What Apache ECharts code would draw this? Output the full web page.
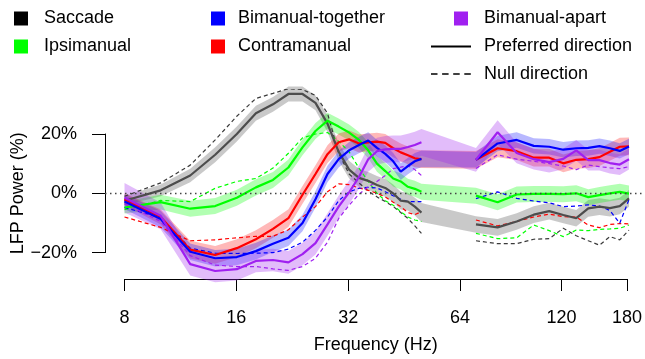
<!DOCTYPE html>
<html>
<head>
<meta charset="utf-8">
<script src="https://cdn.jsdelivr.net/npm/echarts@6/dist/echarts.min.js"></script>
<style>
html,body{margin:0;padding:0;background:#fff;}
#chart{width:645px;height:359px;}
</style>
</head>
<body>
<div id="chart"></div>
<script>
// ---------------- DATA ----------------
const lowFreqs  = [8,10,12,14,16,18,20,22,24,26,28,30,32,34,36,38,40,42,44,46,48,50];
const highFreqs = [70,80,90,100,110,120,130,140,150,160,170,180];
const xTickFreqs = [8,16,32,64,120,180];
const yTickValues = [-20,0,20];
const conditionNames = ['Saccade','Ipsimanual','Bimanual-together','Contramanual','Bimanual-apart'];
const lineStyleNames = ['Preferred direction','Null direction'];

const saccadePref = [-2.5,1,6,13,20,27,30,33.5,33.5,30.5,23.5,14,8,5.2,4.2,2.8,1.8,0,-2.5,-2.8,-4.5,-6.5,
                     -10.5,-11.5,-9.5,-7.2,-6,-7.3,-8.4,-5.1,-4.5,-5,-4.3,-1.7];
const saccadeNull = [-1,3.5,9.5,18,26,32,33.7,35.3,35,33,27,13.5,6.5,3.5,0.8,-1.2,-2.8,-4.4,-6.5,-8.5,-11,-13.5,
                     -16,-17,-17,-15.5,-15.3,-11.8,-14.3,-16,-17.5,-14.6,-15.7,-12.4];
const saccadeSE   = [1.5,2,2.3,2.5,2.5,2.5,2.5,2.5,2.5,2.5,2.8,3,3,3,3,3,3,3,3,3,3,3.2,
                     2.8,2.8,2.8,2.8,2.8,2.8,2.8,2.8,2.8,2.8,2.8,2.8];

const ipsiPref = [-4.8,-3,-5.2,-4.3,-1.5,2,4.5,8.7,15.5,21,24.5,22.5,20.5,18,14.5,10,7.5,5,4,2.2,1.5,0.5,
                  -0.8,-3,-0.4,-0.2,-0.2,-0.3,0,-1.3,-0.6,0,0.5,-0.1];
const ipsiNull = [-5.5,-2.4,-2.8,1.7,4,5,8.5,13.5,18.7,20,20.5,17.5,14,8.5,4,0,-2.5,-4,-6.2,-8,-9,-9.5,
                  -13.5,-15.3,-15,-10.7,-12.6,-14.6,-12.4,-12.6,-12.2,-12,-11.8,-10.7];
const ipsiSE   = [2,2.5,2.7,2.7,2.7,2.7,2.7,2.7,2.7,2.7,2.7,2.7,2.7,2.7,2.7,2.7,2.7,2.7,2.7,2.7,2.7,2.7,
                  2.7,2.7,2.7,2.7,2.7,2.7,2.7,2.7,2.7,2.7,2.7,2.7];

const contraPref = [-2,-8,-19,-20.8,-18.5,-15.5,-12,-8.4,-0.5,6.5,13.2,17.2,18.2,16.8,17.2,17.4,17,15.2,13.8,12.8,11.8,11.5,
                    11.3,15.2,14.2,12,12,10.1,11.3,11.5,12.2,14,15.7,15.8];
const contraNull = [-8,-11.5,-16,-15.7,-15,-14.5,-14.5,-12.3,-8,-4.5,0.5,3.2,2.9,1.8,1,0,-1.2,-3,-4.5,-6.5,-7.2,-6.2,
                    -9,-11,-9.5,-8,-7,-7.9,-8,-10.7,-11.6,-10.5,-10.2,-10.3];
const contraSE   = [2,2.5,3,3,3,3,3,3,3,3,3,3,3,3,3,3,3,3,3,3,3,3,
                    3,3,3,3,3,3,3,3,3,3,3,3];

const togetherPref = [-2.8,-8.7,-19.7,-21.9,-21.5,-19.5,-17,-15,-10,-2,6.5,11.5,14.5,16.3,17.8,15.3,13.3,10.8,7.3,9.2,10.8,11.6,
                      11.3,16.8,18,16,15.7,14.7,15.2,15.3,15.9,15.2,14.3,15.8];
const togetherNull = [-4.8,-8.2,-18.5,-20.2,-20.3,-20.2,-20,-18.8,-16.5,-12.5,-8,-2.5,0.5,1.7,2,1.8,0.5,-0.8,-2,-2.8,-2.8,-2.8,
                      -1.8,0.5,-1.7,-2.6,-3.2,-4.5,-4.3,-3.9,-4.3,-5.8,-10.1,-2.1];
const togetherSE   = [2.5,2.8,2.8,2.8,2.8,2.8,2.8,2.8,2.8,2.8,2.8,2.8,2.8,2.8,2.8,2.8,2.8,2.8,2.8,2.8,2.8,2.8,
                      2.6,2.6,2.6,2.6,2.6,2.6,2.6,2.6,2.6,2.6,2.6,2.6];

const apartPref = [-1.5,-7.6,-23.9,-26.2,-25.6,-22.8,-22.5,-23.3,-20.5,-16.8,-10.5,-4.5,0.3,5.5,11.5,14.2,14.8,15,15,15.6,16.3,17.2,
                   11.3,20.6,13.6,11.5,10.5,11.6,14.5,11.2,11.2,10.2,9.7,11.5];
const apartNull = [-3.5,-9.5,-21,-24.2,-24.7,-24.7,-25.5,-26,-24.7,-21.9,-16.5,-8.5,-4,-0.3,2.2,4,6,8.3,8.8,9.3,8,6,
                   8.4,13,11.5,10.8,10,9.2,8,9.5,9,8.6,8.3,9];
const apartSE   = [5,4.5,3.8,3.8,3.8,3.8,3.8,3.8,3.8,3.8,3.8,3.8,4,4,4.2,4.5,4.5,4.5,4.5,4.5,4.5,4.5,
                   4,4,3.5,3.5,3.5,3.5,3.5,3.5,3.5,3.5,3.5,3.5];

// ---------------- STYLE / LAYOUT ----------------
const FONT = "'Liberation Sans', Arial, Helvetica, sans-serif";
const styles = {
  'Saccade':           {line:'#4d4d4d', dash:'#3a3a3a', band:'rgba(0,0,0,0.21)',      key:'#000000'},
  'Ipsimanual':        {line:'#00ff00', dash:'#00ff00', band:'rgba(0,255,0,0.3)',     key:'#00ff00'},
  'Bimanual-together': {line:'#0000ff', dash:'#0000ff', band:'rgba(0,0,255,0.28)',    key:'#0000ff'},
  'Contramanual':      {line:'#ff0000', dash:'#ff0000', band:'rgba(255,0,0,0.28)',    key:'#ff0000'},
  'Bimanual-apart':    {line:'#a020f0', dash:'#a020f0', band:'rgba(160,32,240,0.3)',  key:'#a020f0'}
};
const condData = {
  'Saccade':           [saccadePref, saccadeNull, saccadeSE],
  'Ipsimanual':        [ipsiPref, ipsiNull, ipsiSE],
  'Bimanual-together': [togetherPref, togetherNull, togetherSE],
  'Contramanual':      [contraPref, contraNull, contraSE],
  'Bimanual-apart':    [apartPref, apartNull, apartSE]
};
const drawOrder = ['Saccade','Ipsimanual','Contramanual','Bimanual-together','Bimanual-apart'];

// axis geometry (pixels)
const AX_LEFT = 124.5, AX_RIGHT = 629;         // 8 Hz .. 180 Hz
const L0 = Math.log2(xTickFreqs[0]), L1 = Math.log2(xTickFreqs[xTickFreqs.length-1]);
const PX_OCT = (AX_RIGHT - AX_LEFT) / (L1 - L0);
const DATA_LEFT = 105, DATA_RIGHT = 645;
const Y_TOP_VAL = 35, Y_BOT_VAL = -30;
const Y20 = 134, YM20 = 252.6;
const PX_UNIT = (YM20 - Y20) / 40;
const GRID_TOP = Y20 - (Y_TOP_VAL - 20) * PX_UNIT;
const GRID_H = (Y_TOP_VAL - Y_BOT_VAL) * PX_UNIT;
const X_AXIS_Y = 281;

const freqs = lowFreqs.concat(highFreqs);
const nLow = lowFreqs.length;

function lineData(vals) {
  const d = [];
  freqs.forEach((f, i) => {
    if (i === nLow) d.push([Math.log2((lowFreqs[nLow-1] + highFreqs[0]) / 2), '-']);
    d.push([Math.log2(f), vals[i]]);
  });
  return d;
}

function bandSeries(name) {
  const [pref, , se] = condData[name];
  const rows = freqs.map((f, i) => [Math.log2(f), pref[i] - se[i], pref[i] + se[i]]);
  return {
    type: 'custom', name: name + ' band', xAxisIndex: 0, yAxisIndex: 0, silent: true, z: 1,
    data: rows,
    encode: {x: 0, y: [1, 2]},
    renderItem: function (params, api) {
      if (params.dataIndex !== 0) return null;
      const up = rows.map(r => api.coord([r[0], r[2]]));
      const lo = rows.map(r => api.coord([r[0], r[1]])).reverse();
      return {type: 'polygon', shape: {points: up.concat(lo)}, style: {fill: styles[name].band}};
    }
  };
}

const series = [];
drawOrder.forEach(n => series.push(bandSeries(n)));
drawOrder.forEach(n => series.push({
  type: 'line', name: n + ' null', xAxisIndex: 0, yAxisIndex: 0, z: 2, silent: true,
  data: lineData(condData[n][1]), showSymbol: false, symbol: 'none', connectNulls: false,
  lineStyle: {color: styles[n].dash, width: 1.2, type: [4, 3]}
}));
drawOrder.forEach((n, k) => {
  const s = {
    type: 'line', name: n + ' preferred', xAxisIndex: 0, yAxisIndex: 0, z: 3, silent: true,
    data: lineData(condData[n][0]), showSymbol: false, symbol: 'none', connectNulls: false,
    lineStyle: {color: styles[n].line, width: 2.2}
  };
  if (k === 0) {
    s.markLine = {
      silent: true, symbol: ['none', 'none'], label: {show: false},
      lineStyle: {color: '#444', width: 1.3, type: [1.5, 3.5]},
      data: [{yAxis: 0}]
    };
  }
  series.push(s);
});

// legend drawn as graphic (swatches + text)
const legendCols = [
  {x: 14, tx: 44, items: ['Saccade', 'Ipsimanual']},
  {x: 211, tx: 238, items: ['Bimanual-together', 'Contramanual']},
  {x: 454, tx: 484, items: ['Bimanual-apart']}
];
const rowY = [18.5, 46.5, 74];
const graphic = [];
legendCols.forEach(c => c.items.forEach((name, r) => {
  graphic.push({type: 'rect', x: c.x, y: rowY[r] - 7, shape: {width: 14, height: 14}, style: {fill: styles[name].key}, silent: true});
  graphic.push({type: 'text', x: c.tx, y: rowY[r], style: {text: name, fontSize: 18, fontFamily: FONT, fill: '#000', verticalAlign: 'middle'}, silent: true});
}));
graphic.push({type: 'line', shape: {x1: 431, y1: rowY[1], x2: 471, y2: rowY[1]}, style: {stroke: '#000', lineWidth: 2}, silent: true});
graphic.push({type: 'text', x: 484, y: rowY[1], style: {text: lineStyleNames[0], fontSize: 18, fontFamily: FONT, fill: '#000', verticalAlign: 'middle'}, silent: true});
graphic.push({type: 'line', shape: {x1: 431, y1: rowY[2], x2: 471, y2: rowY[2]}, style: {stroke: '#000', lineWidth: 1.5, lineDash: [6.5, 4.6]}, silent: true});
graphic.push({type: 'text', x: 484, y: rowY[2], style: {text: lineStyleNames[1], fontSize: 18, fontFamily: FONT, fill: '#000', verticalAlign: 'middle'}, silent: true});

const chart = echarts.init(document.getElementById('chart'), null, {renderer: 'canvas'});
chart.setOption({
  animation: false,
  backgroundColor: '#fff',
  textStyle: {fontFamily: FONT},
  grid: [
    {left: DATA_LEFT, top: GRID_TOP, width: DATA_RIGHT - DATA_LEFT, height: GRID_H},
    {left: AX_LEFT, top: GRID_TOP, width: AX_RIGHT - AX_LEFT, height: X_AXIS_Y - GRID_TOP},
    {left: DATA_LEFT, top: Y20, width: 10, height: YM20 - Y20}
  ],
  xAxis: [
    {gridIndex: 0, type: 'value', show: false,
     min: L0 - (AX_LEFT - DATA_LEFT) / PX_OCT, max: L0 + (DATA_RIGHT - AX_LEFT) / PX_OCT},
    {gridIndex: 1, type: 'value', min: L0, max: L1,
     axisLine: {show: true, onZero: false, lineStyle: {color: '#000', width: 1}},
     axisTick: {show: true, inside: false, length: 12, customValues: xTickFreqs.map(Math.log2), lineStyle: {color: '#000', width: 1}},
     axisLabel: {show: true, customValues: xTickFreqs.map(Math.log2), margin: 30, fontSize: 18, color: '#000', fontFamily: FONT,
                 formatter: v => String(Math.round(Math.pow(2, v)))},
     splitLine: {show: false},
     name: 'Frequency (Hz)', nameLocation: 'middle', nameGap: 57,
     nameTextStyle: {fontSize: 18, color: '#000', fontFamily: FONT}},
    {gridIndex: 2, type: 'value', show: false, min: 0, max: 1}
  ],
  yAxis: [
    {gridIndex: 0, type: 'value', show: false, min: Y_BOT_VAL, max: Y_TOP_VAL},
    {gridIndex: 1, type: 'value', show: false, min: Y_BOT_VAL, max: Y_TOP_VAL},
    {gridIndex: 2, type: 'value', min: yTickValues[0], max: yTickValues[yTickValues.length-1], interval: 20,
     axisLine: {show: true, onZero: false, lineStyle: {color: '#000', width: 1}},
     axisTick: {show: true, inside: false, length: 13, lineStyle: {color: '#000', width: 1}},
     axisLabel: {margin: 28, fontSize: 18, color: '#000', fontFamily: FONT,
                 formatter: v => (v < 0 ? '\u2212' + Math.abs(v) : String(v)) + '%'},
     splitLine: {show: false},
     name: 'LFP Power (%)', nameLocation: 'middle', nameGap: 75, nameRotate: 90,
     nameTextStyle: {fontSize: 18, color: '#000', fontFamily: FONT}}
  ],
  graphic: graphic,
  series: series
});
</script>
</body>
</html>
